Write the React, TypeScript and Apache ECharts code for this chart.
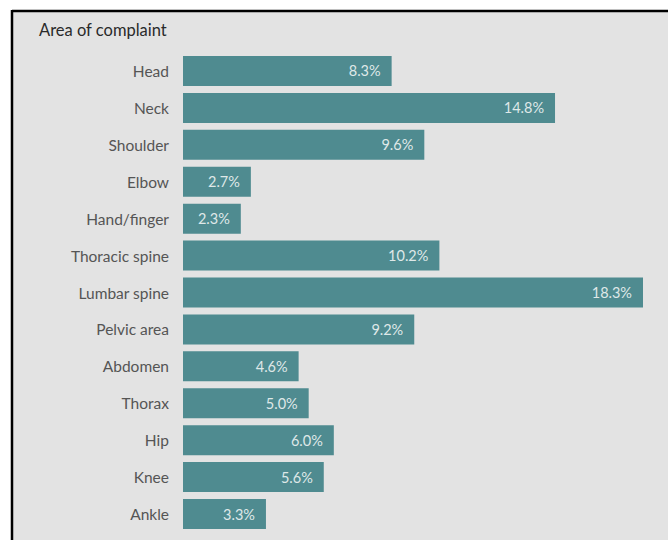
import React, { useEffect, useRef } from "react";
import * as echarts from "echarts";

const categories = [
  "Head",
  "Neck",
  "Shoulder",
  "Elbow",
  "Hand/finger",
  "Thoracic spine",
  "Lumbar spine",
  "Pelvic area",
  "Abdomen",
  "Thorax",
  "Hip",
  "Knee",
  "Ankle",
];
const values = [8.3, 14.8, 9.6, 2.7, 2.3, 10.2, 18.3, 9.2, 4.6, 5.0, 6.0, 5.6, 3.3];
const title = "Area of complaint";

export default function App() {
  const ref = useRef<HTMLDivElement>(null);
  useEffect(() => {
    if (!ref.current) return;
    const chart = echarts.init(ref.current, null, { renderer: "svg" });
    chart.setOption({
      animation: false,
      backgroundColor: "#ffffff",
      graphic: [
        {
          type: "rect",
          z: -10,
          shape: { x: 13, y: 12, width: 655, height: 528 },
          style: { fill: "#e3e3e3" },
        },
        {
          type: "line",
          shape: { x1: 12, y1: 11, x2: 668, y2: 11 },
          style: { stroke: "#000", lineWidth: 2.5 },
        },
        {
          type: "line",
          shape: { x1: 12, y1: 10, x2: 12, y2: 540 },
          style: { stroke: "#000", lineWidth: 2.5 },
        },
        {
          type: "text",
          x: 39,
          y: 21,
          style: {
            text: title,
            fill: "#2a2a2a",
            font: "16.5px Lato",
          },
        },
      ],
      grid: { left: 183, right: 25, top: 52.5, bottom: 7.5, containLabel: false },
      xAxis: {
        type: "value",
        min: 0,
        max: 18.3,
        show: false,
      },
      yAxis: {
        type: "category",
        data: categories,
        inverse: true,
        axisLine: { show: false },
        axisTick: { show: false },
        splitLine: { show: false },
        axisLabel: {
          margin: 14,
          fontSize: 15.5,
          fontFamily: "Lato",
          color: "#555555",
          padding: [0, 0, 4, 0],
        },
      },
      series: [
        {
          type: "bar",
          data: values,
          barWidth: 30,
          itemStyle: { color: "#4f8b90" },
          label: {
            show: true,
            position: "insideRight",
            distance: 11,
            formatter: (p: any) => p.value.toFixed(1) + "%",
            color: "#dfe8e8",
            fontSize: 14.5,
            fontFamily: "Lato",
          },
        },
      ],
    });
    return () => chart.dispose();
  }, []);
  return (
    <div
      ref={ref}
      style={{ position: "absolute", left: 0, top: 0, width: 668, height: 540 }}
    />
  );
}
